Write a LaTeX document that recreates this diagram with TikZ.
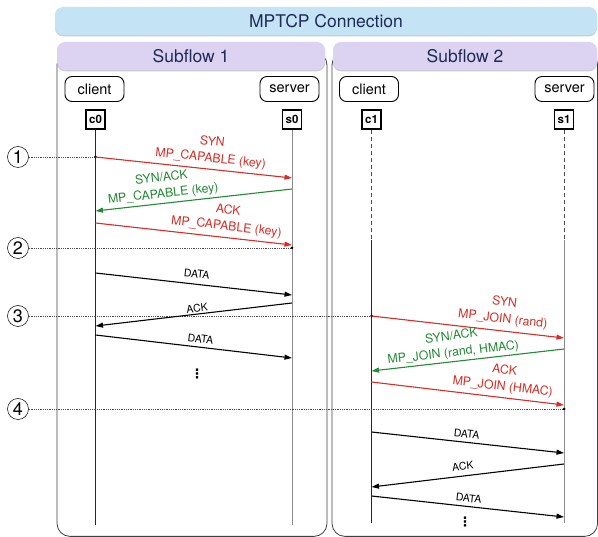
\documentclass[tikz,border=0pt]{standalone}
\usepackage{fontspec}
\setmainfont{TeX Gyre Heros}
\newfontfamily\dejavu{DejaVu Sans}
\usetikzlibrary{arrows.meta,shadows}
\definecolor{hdrblue}{HTML}{C4E3F5}
\definecolor{hdrpurple}{HTML}{DCD3F2}
\definecolor{hdrtext}{HTML}{1F2A55}
\definecolor{msgred}{HTML}{D62D26}
\definecolor{msggreen}{HTML}{248A35}
\tikzset{
  hdr/.style={rounded corners=8pt, inner sep=0pt, text=hdrtext, font=\fontsize{17.5}{20}\selectfont,
    drop shadow={shadow xshift=0pt, shadow yshift=-1.3pt, opacity=0.4, fill=gray}},
  flowbox/.style={draw=black!75, line width=0.8pt, rounded corners=13pt},
  role/.style={draw, line width=0.9pt, rounded corners=7pt, minimum width=59pt, minimum height=25pt, inner sep=0pt, font=\fontsize{14.5}{16}\selectfont},
  proc/.style={draw, line width=1.1pt, minimum size=19pt, inner sep=0pt, font=\bfseries\fontsize{11.5}{13}\selectfont},
  life/.style={line width=0.8pt, black!85},
  lifeg/.style={line width=0.8pt, black!45},
  lifedash/.style={line width=0.6pt, black!70, dash pattern=on 4pt off 3pt},
  msg/.style={line width=1.1pt, -{Triangle[length=7.5pt,width=5pt]}},
  redmsg/.style={msg, msgred},
  greenmsg/.style={msg, msggreen},
  blackmsg/.style={msg, black},
  lbl/.style={sloped, above, align=center, inner sep=1pt, font=\fontsize{12.3}{16.5}\selectfont},
  dlbl/.style={sloped, above, inner sep=1pt, font=\fontsize{10.5}{12}\selectfont},
  stepnum/.style={circle, draw, line width=0.5pt, minimum size=21pt, inner sep=0pt, font=\fontsize{18}{18}\selectfont},
  guide/.style={line width=0.6pt, black!70, dash pattern=on 0.8pt off 1pt},
  dot/.style={circle, fill=black, inner sep=0pt, minimum size=3pt},
  vdotsnode/.style={inner sep=0pt, font=\dejavu\bfseries\fontsize{13}{14}\selectfont}
}
\begin{document}
\begin{tikzpicture}[x=1pt,y=-1pt]
\useasboundingbox (0,0) rectangle (598,537);

% subflow boxes
\draw[flowbox] (57,52) rectangle (327,536.4);
\draw[flowbox] (332,52) rectangle (597.6,536.4);

% headers
\node[hdr, fill=hdrblue, minimum width=542pt, minimum height=28pt] (conn) at (326,21) {MPTCP Connection};
\node[hdr, fill=hdrpurple, minimum width=268pt, minimum height=28pt] (sf1) at (191,56) {Subflow 1};
\node[hdr, fill=hdrpurple, minimum width=264pt, minimum height=28pt] (sf2) at (465,56) {Subflow 2};

% roles
\node[role] (cl1) at (94.5,89) {client};
\node[role] (sv1) at (289.5,89) {server};
\node[role] (cl2) at (369,89) {client};
\node[role] (sv2) at (564.5,89) {server};

\node[proc] (c0) at (95.5,119.5) {c0};
\node[proc] (s0) at (292,119.5) {s0};
\node[proc] (c1) at (371.5,119.5) {c1};
\node[proc] (s1) at (564,119.5) {s1};

% lifelines
\coordinate (c0end) at (95.5,525);
\coordinate (s0end) at (292,525);
\coordinate (c1mid) at (371.5,240);
\coordinate (s1mid) at (564,240);
\coordinate (c1end) at (371.5,523);
\coordinate (s1end) at (564,523);
\draw[life] (c0.south) -- (c0end);
\draw[lifeg] (s0.south) -- (s0end);
\draw[lifedash] (c1.south) -- (c1mid);
\draw[life] (c1mid) -- (c1end);
\draw[lifedash] (s1.south) -- (s1mid);
\draw[lifeg] (s1mid) -- (s1end);

% step markers
\node[stepnum] (st1) at (18,157) {1};
\node[stepnum] (st2) at (18,248) {2};
\node[stepnum] (st3) at (18,316) {3};
\node[stepnum] (st4) at (18,409) {4};
\coordinate (g1) at (95.5,157);
\coordinate (g2) at (292,248);
\coordinate (g3) at (371.5,316);
\coordinate (g4) at (564,409);
\draw[guide] (st1.east) -- (g1);
\draw[guide] (st2.east) -- (g2);
\draw[guide] (st3.east) -- (g3);
\draw[guide] (st4.east) -- (g4);
\node[dot] (d1) at (g1) {};
\node[dot] (d2) at (g2) {};
\node[dot] (d3) at (g3) {};
\node[dot] (d4) at (g4) {};

% subflow 1 messages
\coordinate (a1s) at (95.5,157);  \coordinate (a1e) at (292,178);
\coordinate (a2s) at (292,189);   \coordinate (a2e) at (95.5,211);
\coordinate (a3s) at (95.5,223);  \coordinate (a3e) at (292,245);
\coordinate (a4s) at (95.5,273);  \coordinate (a4e) at (292,295);
\coordinate (a5s) at (292,303);   \coordinate (a5e) at (95.5,326);
\coordinate (a6s) at (95.5,335);  \coordinate (a6e) at (292,358);
\draw[redmsg] (a1s) -- node[lbl, pos=0.58, above=3pt] {SYN\\MP\_CAPABLE (key)} (a1e);
\draw[greenmsg] (a2s) -- node[lbl, pos=0.65, above=1.5pt] {SYN/ACK\\MP\_CAPABLE (key)} (a2e);
\draw[redmsg] (a3s) -- node[lbl, pos=0.66, above=3pt] {ACK\\MP\_CAPABLE (key)} (a3e);
\draw[blackmsg] (a4s) -- node[dlbl, pos=0.51, above=5pt] {DATA} (a4e);
\draw[blackmsg] (a5s) -- node[dlbl, pos=0.48, above=0pt] {ACK} (a5e);
\draw[blackmsg] (a6s) -- node[dlbl, pos=0.53, above=3pt] {DATA} (a6e);
\node[vdotsnode] (v1) at (197,374) {⋮};

% subflow 2 messages
\coordinate (b1s) at (371.5,316); \coordinate (b1e) at (564,338);
\coordinate (b2s) at (564,349);   \coordinate (b2e) at (371.5,371);
\coordinate (b3s) at (371.5,382); \coordinate (b3e) at (564,405);
\coordinate (b4s) at (371.5,432); \coordinate (b4e) at (564,453);
\coordinate (b5s) at (564,464);   \coordinate (b5e) at (371.5,487);
\coordinate (b6s) at (371.5,496); \coordinate (b6e) at (564,517);
\draw[redmsg] (b1s) -- node[lbl, pos=0.675, above=4pt] {SYN\\MP\_JOIN (rand)} (b1e);
\draw[greenmsg] (b2s) -- node[lbl, pos=0.57, above=1pt] {SYN/ACK\\MP\_JOIN (rand, HMAC)} (b2e);
\draw[redmsg] (b3s) -- node[lbl, pos=0.675, above=3pt] {ACK\\MP\_JOIN (HMAC)} (b3e);
\draw[blackmsg] (b4s) -- node[dlbl, pos=0.49, above=3pt] {DATA} (b4e);
\draw[blackmsg] (b5s) -- node[dlbl, pos=0.52, above=4pt] {ACK} (b5e);
\draw[blackmsg] (b6s) -- node[dlbl, pos=0.5, above=3pt] {DATA} (b6e);
\node[vdotsnode] (v2) at (465,522) {⋮};
\end{tikzpicture}
\end{document}
